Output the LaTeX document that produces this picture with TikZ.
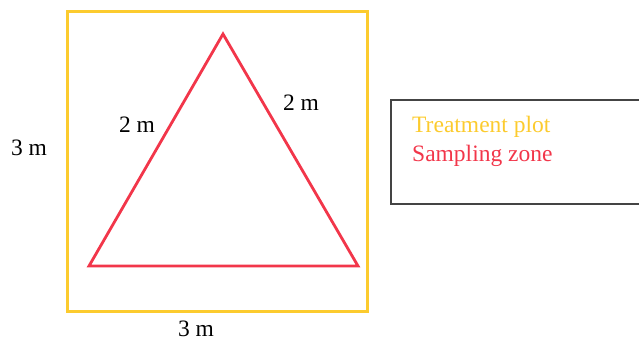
\documentclass[tikz,border=0pt]{standalone}
\usepackage{fontspec}
\setmainfont{Liberation Serif}
\usepackage{tikz}
\usetikzlibrary{positioning}
\definecolor{plotyellow}{HTML}{FCCB2E}
\definecolor{zonered}{HTML}{F2364A}
\definecolor{boxgray}{HTML}{444444}

\begin{document}
\begin{tikzpicture}[x=1pt,y=-1pt,
    dimlabel/.style={font=\fontsize{23.5}{27}\selectfont, text=black, inner sep=0pt},
    legtext/.style={font=\fontsize{23.5}{27}\selectfont, anchor=base west, inner sep=0pt}]
  % canvas 639 x 341 (1 unit = 1 px of the reference)
  \useasboundingbox (0,0) rectangle (639,341);
  \clip (0,0) rectangle (639,341);

  % treatment plot (3 m x 3 m)
  \draw[plotyellow, line width=3pt] (67,11) rectangle (367,311);

  % sampling zone (equilateral triangle, 2 m sides)
  \draw[zonered, line width=2.8pt, line join=miter]
    (223,34) -- (358,266) -- (89,266) -- cycle;

  % dimension labels
  \node[dimlabel] (sideleft) at (29,148) {3 m};
  \node[dimlabel] (sidebottom) at (196,329) {3 m};
  \node[dimlabel] (edgeleft) at (137,125) {2 m};
  \node[dimlabel] (edgeright) at (301,103) {2 m};

  % legend
  \draw[boxgray, line width=1.4pt] (391,100) rectangle (660,204);
  \node[legtext, text=plotyellow] (legplot) at (412,132) {Treatment plot};
  \node[legtext, text=zonered] (legzone) at (412,161) {Sampling zone};
\end{tikzpicture}
\end{document}
